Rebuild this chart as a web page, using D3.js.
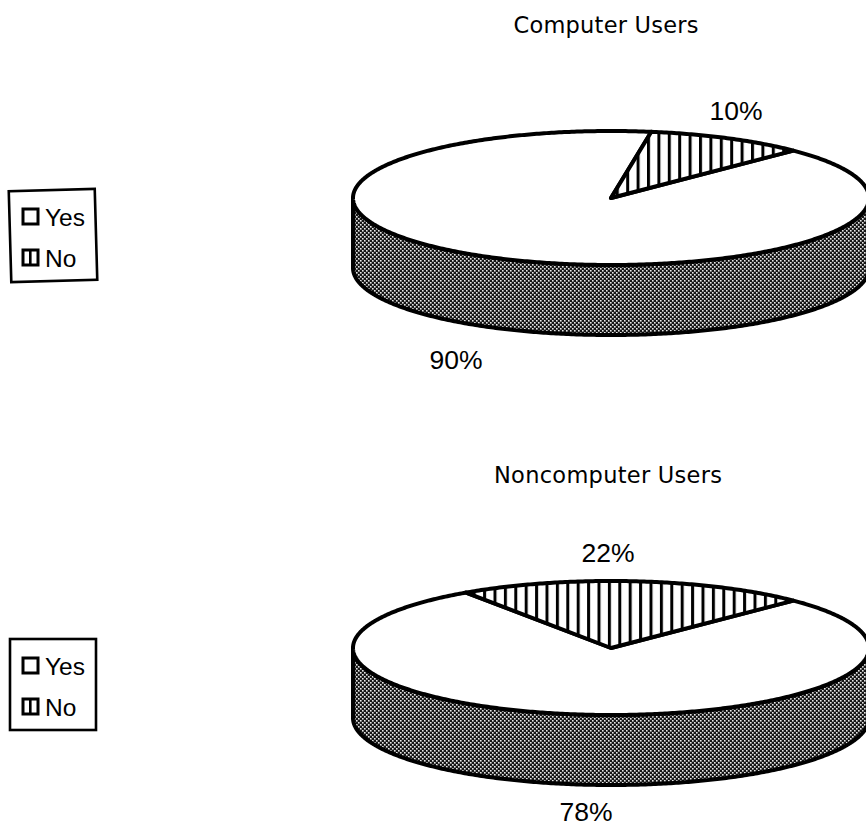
<!DOCTYPE html>
<html>
<head>
<meta charset="utf-8">
<script src="https://cdnjs.cloudflare.com/ajax/libs/d3/7.8.5/d3.min.js"></script>
<style>
  html, body { margin: 0; padding: 0; background: #fff; }
  svg { display: block; }
  text { fill: #000; }
  .title { font-family: "DejaVu Sans", sans-serif; }
  .label, .key { font-family: "Liberation Sans", sans-serif; }
</style>
</head>
<body>
<svg id="chart" width="866" height="826"></svg>
<script>
// Survey answers, in percent
const categories = ["Yes", "No"];
const computerUsers = [90, 10];
const noncomputerUsers = [78, 22];

const panelTitles = ["Computer Users", "Noncomputer Users"];
const panelValues = [computerUsers, noncomputerUsers];

// Layout of each panel
const panelLayout = [
  { cx: 611, cy: 198, titleX: 606, titleY: 33, titleLen: 185, hatchX: 2.2,
    legendY: 189, legendTilt: -1.6,
    labelPos: [{ x: 456, y: 369 }, { x: 736, y: 120 }] },
  { cx: 611, cy: 648, titleX: 608, titleY: 483, titleLen: 228, hatchX: 4.7,
    legendY: 638, legendTilt: 0,
    labelPos: [{ x: 586, y: 821 }, { x: 608, y: 562 }] }
];
const rx = 258, ry = 67, depth = 70;

const svg = d3.select("#chart");
const defs = svg.append("defs");

// Vertical hatching for the "No" wedge, one pattern per panel
panelLayout.forEach((L, p) => {
  const hatch = defs.append("pattern")
    .attr("id", "hatch" + p).attr("patternUnits", "userSpaceOnUse")
    .attr("width", 10.4).attr("height", 10).attr("x", L.hatchX);
  hatch.append("rect").attr("width", 10.4).attr("height", 10).attr("fill", "#fff");
  hatch.append("rect").attr("width", 3).attr("height", 10).attr("fill", "#000");
});

// Legend key hatching
const keyHatch = defs.append("pattern")
  .attr("id", "keyHatch").attr("patternUnits", "userSpaceOnUse")
  .attr("width", 20).attr("height", 10).attr("x", 29);
keyHatch.append("rect").attr("width", 20).attr("height", 10).attr("fill", "#fff");
keyHatch.append("rect").attr("width", 2.6).attr("height", 10).attr("fill", "#000");

// Dark dither used on the rim of the disc
const dither = defs.append("pattern")
  .attr("id", "dither").attr("patternUnits", "userSpaceOnUse")
  .attr("width", 4).attr("height", 4);
dither.append("rect").attr("width", 4).attr("height", 4).attr("fill", "#161616");
dither.append("rect").attr("width", 1.6).attr("height", 1.6).attr("fill", "#e8e8e8");
dither.append("rect").attr("x", 2).attr("y", 2).attr("width", 1.6).attr("height", 1.6).attr("fill", "#e8e8e8");

const pie = d3.pie().sort(null).startAngle(Math.PI / 4).endAngle(Math.PI / 4 + 2 * Math.PI);

// Tilted-disc projection: angle is clockwise from twelve o'clock
const rim = (cx, cy) => (a) => [cx + rx * Math.sin(a), cy - ry * Math.cos(a)];

function arcPoints(project, a0, a1) {
  const n = Math.max(2, Math.ceil(Math.abs(a1 - a0) / 0.01));
  return d3.range(n + 1).map(i => project(a0 + (a1 - a0) * i / n));
}

const line = d3.line();

panelValues.forEach((values, p) => {
  const L = panelLayout[p];
  const g = svg.append("g");
  const top = rim(L.cx, L.cy);
  const low = rim(L.cx, L.cy + depth);

  // Front wall of the disc
  const front = arcPoints(top, Math.PI / 2, 3 * Math.PI / 2)
    .concat(arcPoints(low, 3 * Math.PI / 2, Math.PI / 2));
  g.append("path")
    .attr("d", line(front) + "Z")
    .attr("fill", "url(#dither)")
    .attr("stroke", "#000").attr("stroke-width", 4).attr("stroke-linejoin", "round");

  // Top-face slices
  const fills = ["#fff", `url(#hatch${p})`];
  pie(values).forEach((s, i) => {
    const pts = [[L.cx, L.cy]].concat(arcPoints(top, s.startAngle, s.endAngle));
    g.append("path")
      .attr("d", line(pts) + "Z")
      .attr("fill", fills[i])
      .attr("stroke", "#000").attr("stroke-width", 4).attr("stroke-linejoin", "round");

    const lp = L.labelPos[i];
    svg.append("text").attr("class", "label")
      .attr("x", lp.x).attr("y", lp.y)
      .attr("text-anchor", "middle").attr("font-size", 26.5)
      .text(values[i] + "%");
  });

  // Panel title
  svg.append("text").attr("class", "title")
    .attr("x", L.titleX).attr("y", L.titleY)
    .attr("text-anchor", "middle").attr("font-size", 22.5)
    .attr("textLength", L.titleLen)
    .text(panelTitles[p]);

  // Legend box
  const lg = svg.append("g").attr("transform", `translate(0,${L.legendY})`);
  lg.append("rect")
    .attr("x", 10).attr("y", 1).attr("width", 86).attr("height", 91)
    .attr("transform", `rotate(${L.legendTilt} 53 46)`)
    .attr("fill", "#fff").attr("stroke", "#000").attr("stroke-width", 2.6);
  categories.forEach((c, i) => {
    const y = 20 + i * 41;
    lg.append("rect")
      .attr("x", 23).attr("y", y).attr("width", 15).attr("height", 15)
      .attr("fill", i === 0 ? "#fff" : "url(#keyHatch)")
      .attr("stroke", "#000").attr("stroke-width", 3);
    lg.append("text").attr("class", "key")
      .attr("x", 45).attr("y", y + 17)
      .attr("font-size", 24.5)
      .text(c);
  });
});
</script>
</body>
</html>
